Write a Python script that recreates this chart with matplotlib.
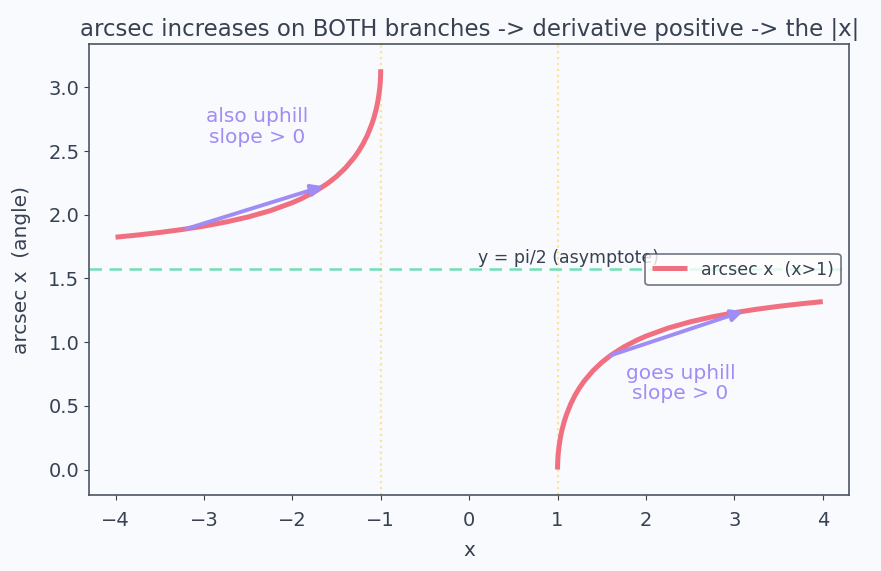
import matplotlib
matplotlib.use("Agg")
import matplotlib.pyplot as plt

plt.rcParams['font.family'] = ['DejaVu Sans']

# Right branch (x > 1)
x_right = [1.0, 1.001, 1.005, 1.01, 1.02, 1.035, 1.05, 1.075, 1.1, 1.15, 1.2,
           1.25, 1.3, 1.4, 1.5, 1.6, 1.75, 1.9, 2.0, 2.25, 2.5, 2.75, 3.0,
           3.25, 3.5, 3.75, 4.0]
y_right = [0.0, 0.0447, 0.0998, 0.1408, 0.1982, 0.2608, 0.3098, 0.3757, 0.4297,
           0.5164, 0.5857, 0.6435, 0.6931, 0.7752, 0.8411, 0.8957, 0.9626,
           1.0165, 1.0472, 1.1102, 1.1593, 1.1986, 1.2310, 1.2581, 1.2810,
           1.3009, 1.3181]

# Left branch (x < -1)
x_left = [-4.0, -3.75, -3.5, -3.25, -3.0, -2.75, -2.5, -2.25, -2.0, -1.9,
          -1.75, -1.6, -1.5, -1.4, -1.3, -1.25, -1.2, -1.15, -1.1, -1.075,
          -1.05, -1.035, -1.02, -1.01, -1.005, -1.001, -1.0]
y_left = [1.8235, 1.8407, 1.8606, 1.8835, 1.9106, 1.9430, 1.9823, 2.0314,
          2.0944, 2.1251, 2.1790, 2.2459, 2.3005, 2.3664, 2.4485, 2.4981,
          2.5559, 2.6252, 2.7119, 2.7659, 2.8318, 2.8808, 2.9434, 3.0008,
          3.0418, 3.0969, 3.1416]

asymptote_y = 1.5708
vlines_x = [-1, 1]

# chord arrows (start, end) on each branch
arrow_left = [(-3.2, 1.889), (-1.65, 2.223)]
arrow_right = [(1.6, 0.896), (3.1, 1.242)]

bg = '#f9fafd'
text_c = '#374151'
spine_c = '#4b5563'
curve_c = '#f07082'
arrow_c = '#a08cf5'

fig, ax = plt.subplots(figsize=(8.81, 5.71), dpi=100)
fig.patch.set_facecolor(bg)
ax.set_facecolor(bg)

for xv in vlines_x:
    ax.axvline(xv, color='#fbe39a', linestyle=':', lw=1.6, zorder=1)
ax.axhline(asymptote_y, color='#6ee0b5', linestyle='--', lw=1.8,
           dashes=(5, 3), zorder=1)

ax.plot(x_right, y_right, color=curve_c, lw=3.6, label='arcsec x  (x>1)',
        zorder=3, solid_capstyle='butt', solid_joinstyle='round')
ax.plot(x_left, y_left, color=curve_c, lw=3.6, zorder=3,
        solid_capstyle='butt', solid_joinstyle='round')

for (s, e) in (arrow_left, arrow_right):
    ax.annotate('', xy=e, xytext=s,
                arrowprops=dict(arrowstyle='-|>', color=arrow_c, lw=2.8,
                                mutation_scale=17, shrinkA=0, shrinkB=0),
                zorder=4)

ax.text(-2.4, 2.69, 'also uphill\nslope > 0', color=arrow_c, fontsize=14.5,
        ha='center', va='center', linespacing=1.1)
ax.text(2.39, 0.676, 'goes uphill\nslope > 0', color=arrow_c, fontsize=14.5,
        ha='center', va='center', linespacing=1.1)
ax.text(0.1, 1.66, 'y = pi/2 (asymptote)', color=text_c, fontsize=12.5,
        ha='left', va='center')

ax.set_xlim(-4.3, 4.3)
ax.set_ylim(-0.2, 3.34)
ax.set_xticks([-4, -3, -2, -1, 0, 1, 2, 3, 4])
ax.set_yticks([0.0, 0.5, 1.0, 1.5, 2.0, 2.5, 3.0])
ax.set_xlabel('x', fontsize=14.5, color=text_c, labelpad=8)
ax.set_ylabel('arcsec x  (angle)', fontsize=14.5, color=text_c, labelpad=12)
ax.set_title('arcsec increases on BOTH branches -> derivative positive -> the |x|',
             fontsize=16.5, color=text_c)
ax.tick_params(colors=text_c, labelsize=14)
ax.tick_params(axis='x', pad=8)
for sp in ax.spines.values():
    sp.set_color(spine_c)
    sp.set_linewidth(1.2)

leg = ax.legend(loc='center right', fontsize=12.5, frameon=True,
                facecolor='white', edgecolor=spine_c, labelcolor=text_c)
leg.get_frame().set_linewidth(1.2)

fig.subplots_adjust(left=0.101, right=0.964, top=0.923, bottom=0.133)
fig.savefig('out.png', dpi=100, facecolor=bg)
